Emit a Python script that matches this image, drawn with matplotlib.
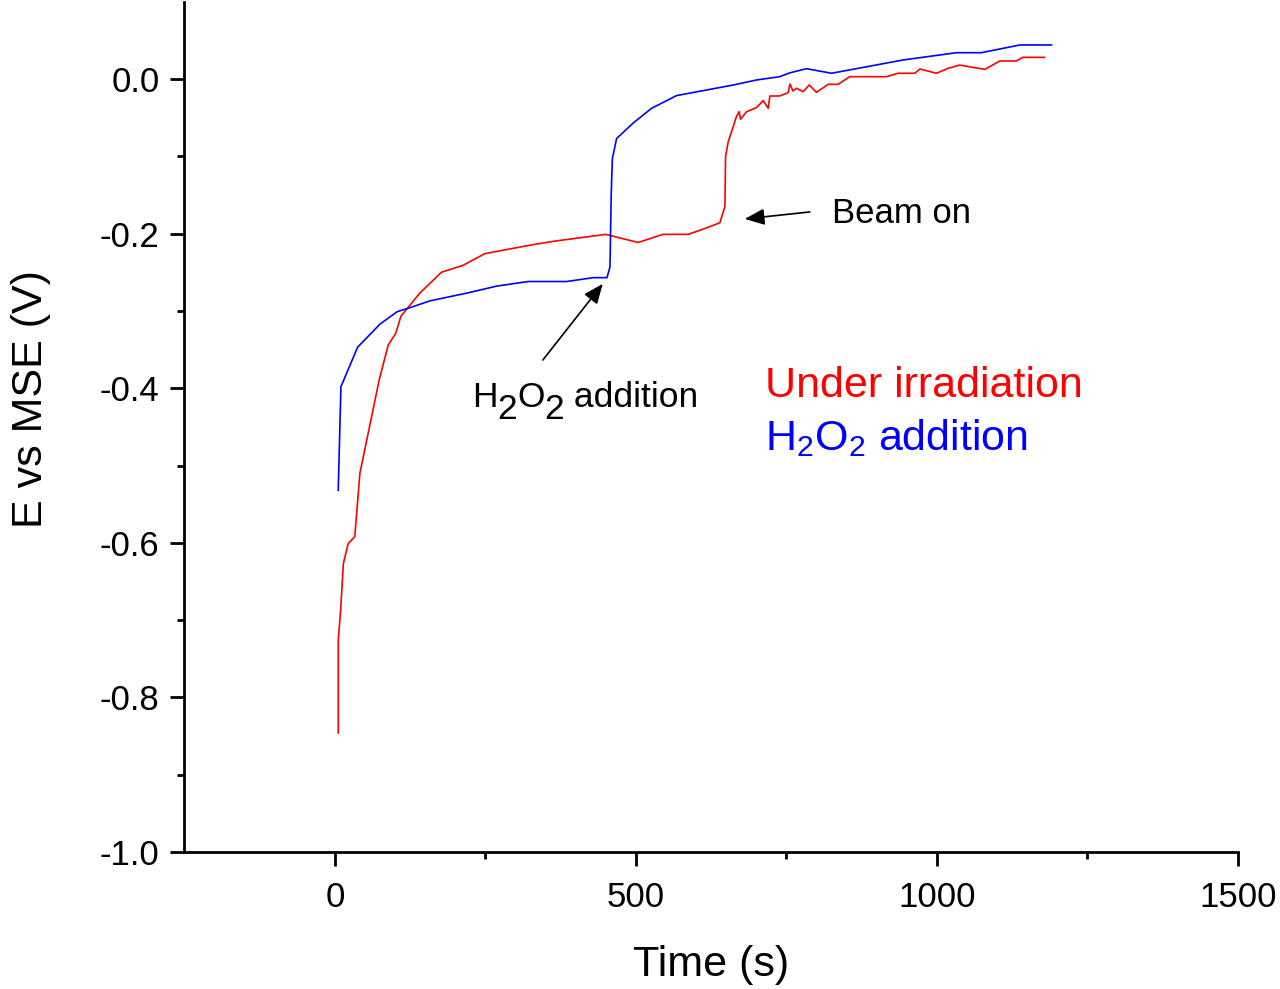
import matplotlib
matplotlib.use("Agg")
import matplotlib.pyplot as plt
from matplotlib.ticker import FixedLocator, FuncFormatter
from matplotlib.transforms import offset_copy

plt.rcParams['font.family'] = ['Liberation Sans', 'DejaVu Sans']
plt.rcParams['mathtext.fontset'] = 'custom'
plt.rcParams['mathtext.rm'] = 'Liberation Sans'
plt.rcParams['mathtext.it'] = 'Liberation Sans:italic'
plt.rcParams['mathtext.bf'] = 'Liberation Sans:bold'
plt.rcParams['mathtext.default'] = 'regular'

# ---- data ----
time_irr = [5.5, 5.5, 9.5, 14, 22, 33, 41.5, 73.6, 88.6, 101, 109.6, 141, 177, 213, 249,
            324, 362.6, 450, 503.7, 545, 586.7, 616, 639.5, 648, 649, 653.5, 661.7, 667,
            671.6, 674, 684, 700.5, 711.5, 720, 722.6, 739, 753, 756, 761, 767, 778, 788,
            800, 819.5, 836, 855.5, 916, 935.7, 963.5, 971.8, 999.5, 1018.8, 1038, 1060,
            1080, 1104.6, 1132, 1143, 1179]
e_irr = [-0.846, -0.726, -0.687, -0.627, -0.601, -0.592, -0.510, -0.389, -0.344, -0.329,
         -0.307, -0.277, -0.250, -0.241, -0.226, -0.215, -0.210, -0.201, -0.2115, -0.201,
         -0.201, -0.193, -0.186, -0.165, -0.1005, -0.081, -0.0617, -0.0487, -0.0423,
         -0.052, -0.0423, -0.037, -0.028, -0.038, -0.022, -0.022, -0.0177, -0.0065,
         -0.0155, -0.012, -0.0164, -0.0078, -0.0172, -0.0069, -0.0069, 0.003, 0.003,
         0.0074, 0.0074, 0.0129, 0.0074, 0.0138, 0.018, 0.015, 0.0125, 0.0233, 0.0233,
         0.028, 0.028]

time_h2o2 = [5.5, 10, 37.7, 75, 103.5, 120, 158, 219, 268.5, 321, 385, 429, 452, 457, 459,
             461, 468, 495.5, 526, 567.5, 661.7, 700.5, 739, 756, 783.5, 825, 944, 1032.7,
             1074, 1138, 1190.5]
e_h2o2 = [-0.532, -0.398, -0.347, -0.317, -0.301, -0.297, -0.287, -0.277, -0.268, -0.262,
          -0.262, -0.257, -0.257, -0.243, -0.150, -0.103, -0.077, -0.057, -0.038, -0.0215,
          -0.0078, -0.0013, 0.003, 0.008, 0.0133, 0.0074, 0.0246, 0.034, 0.034, 0.044, 0.044]

x_major = [0, 500, 1000, 1500]
x_minor = [250, 750, 1250]
y_major = [-1.0, -0.8, -0.6, -0.4, -0.2, 0.0]
y_minor = [-0.9, -0.7, -0.5, -0.3, -0.1]

fig = plt.figure(figsize=(12.8, 9.89), dpi=100)
ax = fig.add_axes([0.1441, 0.1385, 0.967 - 0.1441, 0.9983 - 0.1385])

ax.plot(time_irr, e_irr, color='#ff0000', lw=1.2)
ax.plot(time_h2o2, e_h2o2, color='#0000ff', lw=1.2)

ax.set_xlim(-250, 1500)
ax.set_ylim(-1.0, 0.1)

for s in ['top', 'right']:
    ax.spines[s].set_visible(False)
for s in ['left', 'bottom']:
    ax.spines[s].set_linewidth(2.0)

ax.xaxis.set_major_locator(FixedLocator(x_major))
ax.xaxis.set_minor_locator(FixedLocator(x_minor))
ax.yaxis.set_major_locator(FixedLocator(y_major))
ax.yaxis.set_minor_locator(FixedLocator(y_minor))
ax.yaxis.set_major_formatter(FuncFormatter(lambda v, p: f"{v:.1f}" if abs(v) > 1e-9 else "0.0"))
ax.xaxis.set_major_formatter(FuncFormatter(lambda v, p: f"{int(round(v))}"))

ax.tick_params(which='major', direction='out', length=10, width=2.0, labelsize=25, pad=8)
ax.tick_params(axis='x', which='major', pad=11)
ax.tick_params(which='minor', direction='out', length=5, width=2.0)

ax.set_xlabel('Time (s)', fontsize=31, family='Liberation Sans')
ax.set_ylabel('E vs MSE (V)', fontsize=31, family='Liberation Sans')
ax.xaxis.set_label_coords(0.5, -0.109)
ax.yaxis.set_label_coords(-0.127, 0.533)

arrow = dict(arrowstyle='-|>,head_length=0.6,head_width=0.25', color='black', lw=1.2,
             shrinkA=0, shrinkB=0, mutation_scale=20)
ax.annotate('', xy=(681, -0.181), xytext=(789, -0.172), arrowprops=arrow)
ax.annotate('', xy=(445, -0.265), xytext=(345.5, -0.3635), arrowprops=arrow)

ax.text(825.6, -0.186, 'Beam on', fontsize=25, ha='left', va='baseline', color='black')

# annotation with full-size lowered subscripts (as in the reference)
fig.canvas.draw()
renderer = fig.canvas.get_renderer()
pieces = [('H', 0), ('2', -9), ('O', 0), ('2', -9), (' addition', 0)]
cum = 0.0
for s, dy in pieces:
    tr = offset_copy(ax.transData, fig=fig, x=cum, y=dy, units='points')
    t = ax.text(227.6, -0.424, s, fontsize=25.5, ha='left', va='baseline', color='black',
                transform=tr)
    ext = t.get_window_extent(renderer)
    cum += ext.width * 72.0 / fig.dpi

ax.text(714, -0.412, 'Under irradiation', fontsize=31, ha='left', va='baseline', color='#ff0000')
ax.text(714, -0.480, r'H$_2$O$_2$ addition', fontsize=31, ha='left', va='baseline', color='#0000ff')

fig.savefig('out.png', dpi=100)
